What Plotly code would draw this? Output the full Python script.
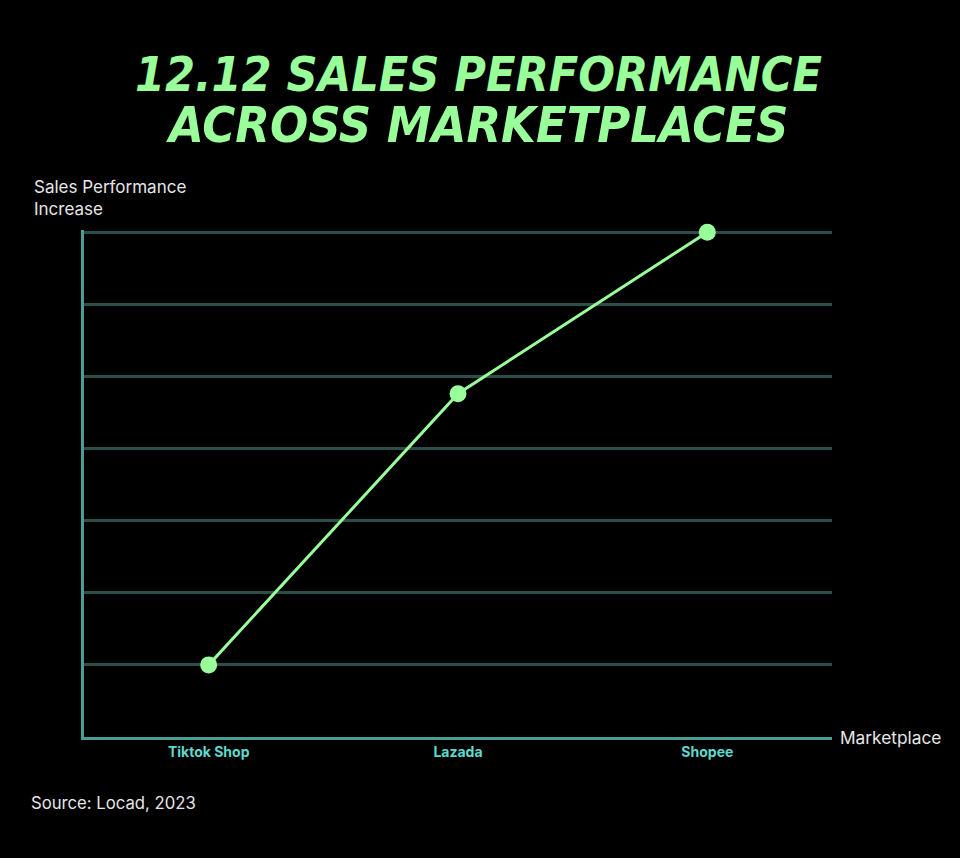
import plotly.graph_objects as go

marketplaces = ["Tiktok Shop", "Lazada", "Shopee"]
sales_increase = [1.0, 4.76, 7.0]
y_grid = [1, 2, 3, 4, 5, 6, 7]
title_lines = ["12.12 SALES PERFORMANCE", "ACROSS MARKETPLACES"]

BG = "#000000"
GREEN = "#99FF99"
AXIS = "#4A9E95"
GRID = "#2A4F4B"
TICK = "#5ED9CB"
TEXT = "#E6E6E6"

fig = go.Figure()
fig.add_trace(go.Scatter(
    x=marketplaces, y=sales_increase, mode="lines+markers",
    line=dict(color=GREEN, width=3),
    marker=dict(color=GREEN, size=17),
    cliponaxis=False, hoverinfo="x+y", showlegend=False,
))

title_font1 = dict(family="DejaVu Sans Condensed", size=48, color=GREEN,
                   weight="bold", style="italic")
title_font2 = dict(family="DejaVu Sans Condensed", size=50, color=GREEN,
                   weight="bold", style="italic")

fig.update_layout(
    width=960, height=858,
    paper_bgcolor=BG, plot_bgcolor=BG,
    margin=dict(l=84, r=128, t=230, b=121),
    font=dict(family="Inter", color=TEXT),
    xaxis=dict(
        range=[-0.5, 2.5], showgrid=False, zeroline=False,
        showline=True, linecolor=AXIS, linewidth=3,
        ticks="", tickfont=dict(family="Inter", size=14, color=TICK, weight="bold"),
    ),
    yaxis=dict(
        range=[0, 7.03], tickvals=y_grid, showticklabels=False,
        showgrid=True, gridcolor=GRID, gridwidth=2.5, zeroline=False,
        showline=True, linecolor=AXIS, linewidth=3,
    ),
    annotations=[
        dict(text=title_lines[0], xref="paper", yref="paper",
             x=0.527, y=1.308, xanchor="center", yanchor="middle",
             showarrow=False, font=title_font1),
        dict(text=title_lines[1], xref="paper", yref="paper",
             x=0.526, y=1.207, xanchor="center", yanchor="middle",
             showarrow=False, font=title_font2),
        dict(text="Sales Performance<br>Increase", xref="paper", yref="paper",
             x=-0.0695, y=1.063, xanchor="left", yanchor="middle", align="left",
             showarrow=False, font=dict(family="Inter", size=17, color=TEXT)),
        dict(text="Marketplace", xref="paper", yref="paper",
             x=1.0075, y=0.0, xanchor="left", yanchor="middle",
             showarrow=False, font=dict(family="Inter", size=17.3, color=TEXT)),
        dict(text="Source: Locad, 2023", xref="paper", yref="paper",
             x=-0.0735, y=-0.1307, xanchor="left", yanchor="middle",
             showarrow=False, font=dict(family="Inter", size=16.7, color=TEXT)),
    ],
)

fig.write_html(
    "out.html",
    config={"displayModeBar": False},
    post_script="document.body.style.margin='0';document.body.style.background='#000';"
                "document.documentElement.style.background='#000';",
)
